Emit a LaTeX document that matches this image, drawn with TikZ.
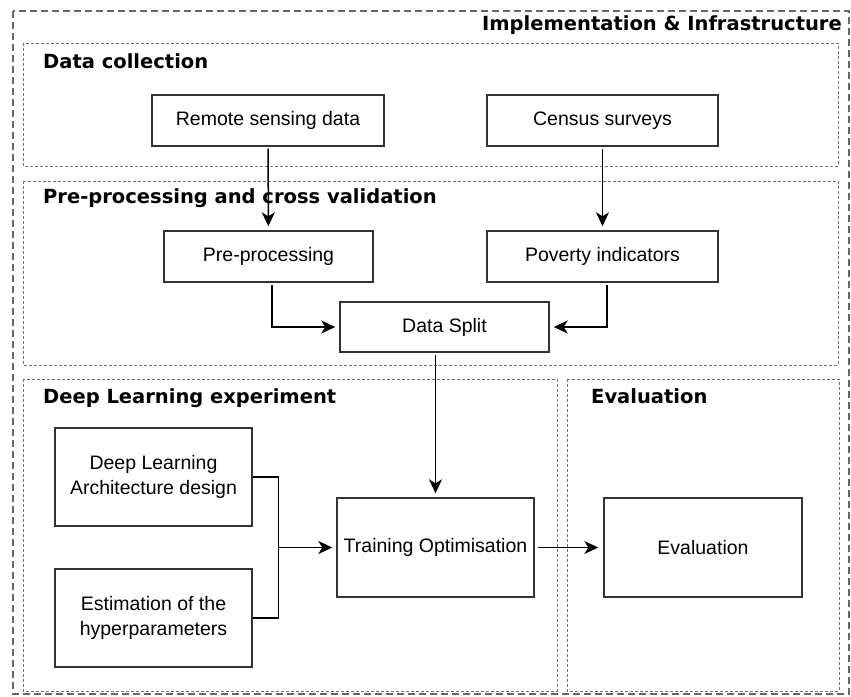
\documentclass[tikz,border=0pt]{standalone}
\usepackage{fontspec}
\setmainfont{Liberation Sans}
\newfontfamily\headfont{DejaVu Sans}
\usetikzlibrary{%
  arrows.meta,%
  calc%
}
\tikzset{>={Stealth[length=14pt,width=13pt,inset=4pt]}}
\tikzset{
  block/.style={draw=black!80,line width=1.4pt,inner sep=0pt,align=center,
    font=\fontsize{19.5}{25}\selectfont},
  group/.style={draw=black!55,line width=1pt,dash pattern=on 3pt off 2pt},
  outer/.style={draw=black!60,line width=1.2pt,dash pattern=on 7pt off 4pt},
  grouptitle/.style={anchor=base west,inner sep=0pt,
    font=\headfont\bfseries\fontsize{19.5}{23}\selectfont},
  link/.style={line width=1.5pt,draw=black,shorten >=4pt,shorten <=2pt}
}

\begin{document}
\begin{tikzpicture}[x=1pt,y=-1pt]
      \useasboundingbox (0,0) rectangle (851,696);

      % frames
      \draw[outer] (13,11) rectangle (849,694);
      \draw[group] (23,43) rectangle (838,166);
      \draw[group] (23,181) rectangle (838,365);
      \draw[group] (23,379) rectangle (557,691);
      \draw[group] (567,379) rectangle (839,691);

      \node[grouptitle,anchor=base east] (tinfra) at (842,30)
      {Implementation \& Infrastructure};
      \node[grouptitle] (tcollect) at (43,68) {Data collection};
      \node[grouptitle] (tprep) at (43,203) {Pre-processing and cross validation};
      \node[grouptitle] (tdeep) at (43,403) {Deep Learning experiment};
      \node[grouptitle] (teval) at (591,403) {Evaluation};

      % blocks
      \node[block,minimum width=232pt,minimum height=51pt] (rs) at (268,120.5)
      {Remote sensing data};
      \node[block,minimum width=231pt,minimum height=51pt] (cs) at (602.5,120.5)
      {Census surveys};
      \node[block,minimum width=209pt,minimum height=51pt] (pp) at (268.5,256.5)
      {Pre-processing};
      \node[block,minimum width=231pt,minimum height=51pt] (pi) at (602.5,256.5)
      {Poverty indicators};
      \node[block,minimum width=209pt,minimum height=50pt] (ds) at (444.5,327)
      {Data Split};
      \node[block,minimum width=197pt,minimum height=98pt] (dla) at (153.5,477)
      {Deep Learning\\Architecture design};
      \node[block,minimum width=197pt,minimum height=98pt] (est) at (153.5,618)
      {Estimation of the\\hyperparameters};
      \node[block,minimum width=197pt,minimum height=99pt] (to) at (435.5,547.5)
      {Training Optimisation};
      \node[block,minimum width=198pt,minimum height=99pt] (ev) at (703,547.5)
      {Evaluation};

      % connectors
      \draw[link,->] (rs) -- (pp);
      \draw[link,->] (cs) -- (pi);
      \draw[link,->] ($(pp.south)+(3.5,0)$) |- (ds.west);
      \draw[link,->] ($(pi.south)+(4.5,0)$) |- (ds.east);
      \draw[link,->] (ds.south -| to.north) -- (to.north);
      \draw[link,shorten >=0pt,shorten <=0pt] (dla.east) -- ++(26,0)
      coordinate (jn) -- (jn |- est.east) -- (est.east);
      \draw[link,->,shorten <=0pt] (jn |- to.west) -- (to.west);
      \draw[link,->,shorten <=3pt,shorten >=5pt] (to) -- (ev);
    \end{tikzpicture}
\end{document}
